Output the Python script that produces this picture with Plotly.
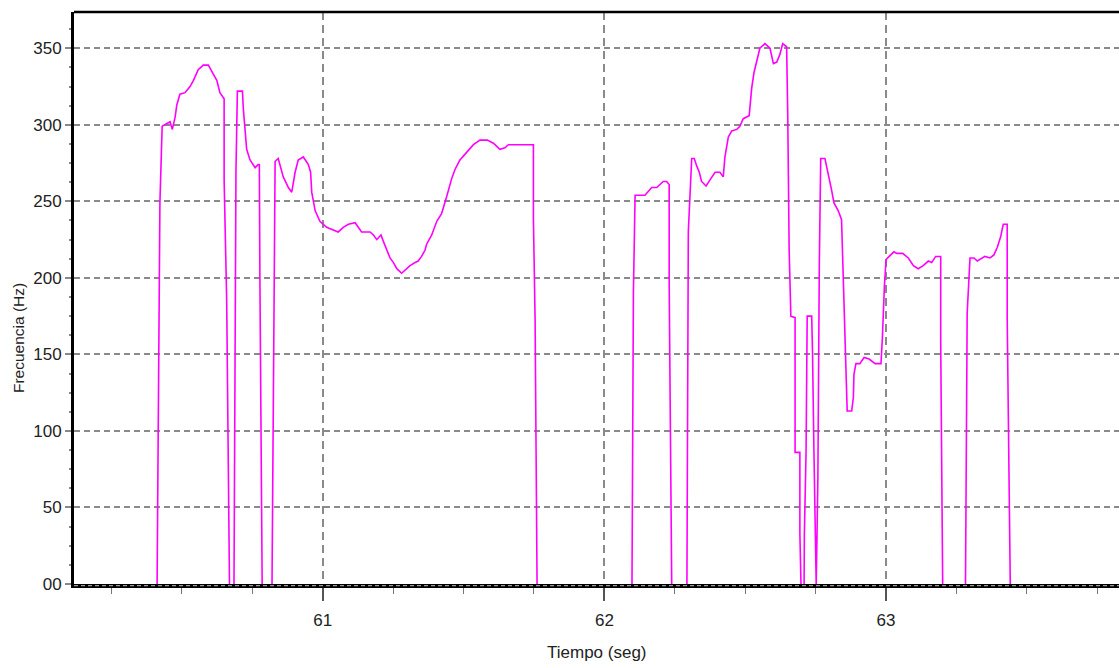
import plotly.graph_objects as go

# ---- data: pitch contour (time in s, frequency in Hz), voiced segments ----
seg1_t = [60.412, 60.414, 60.422, 60.430, 60.458, 60.466, 60.476, 60.482, 60.493, 60.511,
          60.529, 60.541, 60.558, 60.576, 60.594, 60.612, 60.624, 60.635, 60.650, 60.650,
          60.659, 60.669]
seg1_f = [0, 50, 249, 299, 302, 297, 305, 313, 320, 321,
          325, 329, 336, 339, 339, 333, 329, 321, 317, 264,
          186, 0]

seg2_t = [60.685, 60.692, 60.697, 60.715, 60.718, 60.724, 60.730, 60.742, 60.760, 60.771,
          60.775, 60.777, 60.785]
seg2_f = [0, 269, 322, 322, 311, 297, 284, 277, 272, 274,
          274, 200, 0]

seg3_t = [60.820, 60.831, 60.842, 60.848, 60.860, 60.878, 60.890, 60.902, 60.913, 60.931,
          60.949, 60.957, 60.961, 60.973, 60.990, 61.014, 61.038, 61.055, 61.073, 61.091,
          61.115, 61.138, 61.168, 61.180, 61.192, 61.200, 61.207, 61.215, 61.227, 61.239,
          61.251, 61.263, 61.280, 61.292, 61.310, 61.328, 61.339, 61.351, 61.363, 61.369,
          61.387, 61.405, 61.422, 61.440, 61.458, 61.470, 61.487, 61.511, 61.535, 61.558,
          61.584, 61.606, 61.629, 61.647, 61.659, 61.748, 61.748, 61.754, 61.761]
seg3_f = [0, 276, 278, 274, 266, 259, 256, 269, 277, 279,
          274, 269, 256, 244, 237, 233, 231, 230, 233, 235,
          236, 230, 230, 228, 225, 227, 228, 224, 218, 213,
          210, 206, 203, 205, 208, 210, 211, 214, 218, 222,
          228, 237, 242, 253, 265, 271, 277, 282, 287, 290,
          290, 288, 284, 285, 287, 287, 239, 173, 0]

seg4_t = [62.098, 62.103, 62.109, 62.144, 62.168, 62.186, 62.209, 62.221, 62.230, 62.230,
          62.239]
seg4_f = [0, 190, 254, 254, 259, 259, 263, 263, 261, 197,
          0]

seg5_t = [62.293, 62.298, 62.310, 62.319, 62.328, 62.337, 62.345, 62.361, 62.375, 62.393,
          62.410, 62.422, 62.428, 62.440, 62.452, 62.470, 62.481, 62.493, 62.514, 62.523,
          62.531, 62.541, 62.552, 62.570, 62.588, 62.600, 62.612, 62.623, 62.633, 62.647,
          62.651, 62.656, 62.662, 62.677, 62.677, 62.694, 62.694, 62.698]
seg5_f = [0, 230, 278, 278, 273, 269, 263, 260, 264, 269,
          269, 266, 279, 292, 296, 297, 299, 304, 306, 324,
          334, 341, 350, 353, 350, 340, 341, 346, 353, 351,
          306, 218, 175, 174, 86, 86, 33, 0]

seg6_t = [62.709, 62.710, 62.716, 62.720, 62.736, 62.739, 62.744, 62.749, 62.752, 62.755,
          62.758, 62.763, 62.768, 62.783, 62.795, 62.807, 62.815, 62.830, 62.842, 62.846,
          62.851, 62.858, 62.862, 62.878, 62.884, 62.886, 62.893, 62.907, 62.922, 62.940,
          62.961, 62.982, 62.987, 62.994, 63.000, 63.011, 63.028, 63.038, 63.059, 63.079,
          63.097, 63.114, 63.132, 63.150, 63.162, 63.176, 63.194, 63.194, 63.201]
seg6_f = [0, 33, 86, 175, 175, 151, 86, 33, 0, 33,
          70, 208, 278, 278, 268, 257, 249, 244, 238, 215,
          174, 133, 113, 113, 122, 137, 144, 144, 148, 147,
          144, 144, 161, 194, 212, 214, 217, 216, 216, 213,
          208, 206, 208, 211, 210, 214, 214, 159, 0]

seg7_t = [63.282, 63.288, 63.298, 63.312, 63.324, 63.333, 63.351, 63.369, 63.383, 63.395,
          63.407, 63.416, 63.430, 63.430, 63.441]
seg7_f = [0, 177, 213, 213, 211, 212, 214, 213, 215, 220,
          227, 235, 235, 175, 0]

y_tick_vals = [0, 50, 100, 150, 200, 250, 300, 350]
y_tick_text = ["00", "50", "100", "150", "200", "250", "300", "350"]
x_tick_vals = [61, 62, 63]
x_tick_text = ["61", "62", "63"]

segments = [(seg1_t, seg1_f), (seg2_t, seg2_f), (seg3_t, seg3_f), (seg4_t, seg4_f),
            (seg5_t, seg5_f), (seg6_t, seg6_f), (seg7_t, seg7_f)]
t_all, f_all = [], []
for ts, fs in segments:
    t_all += ts + [None]
    f_all += fs + [None]

FONT = "Liberation Sans, Arial, sans-serif"

fig = go.Figure(go.Scatter(
    x=t_all, y=f_all, mode="lines", connectgaps=False,
    line=dict(color="#ff00ff", width=1.6), hoverinfo="skip"))

fig.update_layout(
    width=1119, height=668,
    margin=dict(l=74, r=0, t=12, b=84),
    paper_bgcolor="white", plot_bgcolor="white",
    showlegend=False,
    font=dict(family=FONT, size=17, color="#222"),
)

fig.update_xaxes(
    range=[60.117, 63.827],
    tickmode="array", tickvals=x_tick_vals, ticktext=x_tick_text,
    ticks="outside", ticklen=13, tickwidth=1.5, tickcolor="#555",
    ticklabelstandoff=5,
    showline=True, linecolor="black", linewidth=3.5,
    showgrid=True, gridcolor="#8a8a8a", gridwidth=1.5, griddash="8px,5px",
    zeroline=False,
    minor=dict(tickmode="linear", tick0=61, dtick=0.25, ticks="outside",
               ticklen=6, tickcolor="#777", tickwidth=1, showgrid=False),
    tickfont=dict(family=FONT, size=17, color="#222"),
)

fig.update_yaxes(
    range=[0, 373.7],
    tickmode="array", tickvals=y_tick_vals, ticktext=y_tick_text,
    ticks="outside", ticklen=6, tickwidth=1.5, tickcolor="#888",
    showline=True, linecolor="black", linewidth=3,
    showgrid=True, gridcolor="#8a8a8a", gridwidth=1.5, griddash="6px,4px",
    zeroline=False,
    minor=dict(tickmode="linear", tick0=0, dtick=12.5, ticks="outside",
               ticklen=2, tickcolor="#888", tickwidth=1.5, showgrid=False),
    tickfont=dict(family=FONT, size=17, color="#222"),
)

# top border
fig.add_shape(type="line", xref="paper", yref="paper", x0=0, x1=1, y0=1, y1=1,
              line=dict(color="black", width=2.5), layer="above")
# dashed grey overlay on the bottom axis line
fig.add_shape(type="line", xref="paper", yref="paper", x0=0, x1=1, y0=-0.0028, y1=-0.0028,
              line=dict(color="#9a9a9a", width=1.2, dash="4px,3px"), layer="above")

fig.add_annotation(text="Tiempo (seg)", xref="paper", yref="paper",
                   x=0.5, y=-0.1206, xanchor="center", yanchor="middle",
                   showarrow=False, font=dict(family=FONT, size=17, color="#222"))
fig.add_annotation(text="Frecuencia (Hz)", xref="paper", yref="paper",
                   x=-0.0536, y=0.430, xanchor="center", yanchor="middle",
                   textangle=-90, showarrow=False,
                   font=dict(family=FONT, size=15.5, color="#222"))

fig.write_html("out.html")
